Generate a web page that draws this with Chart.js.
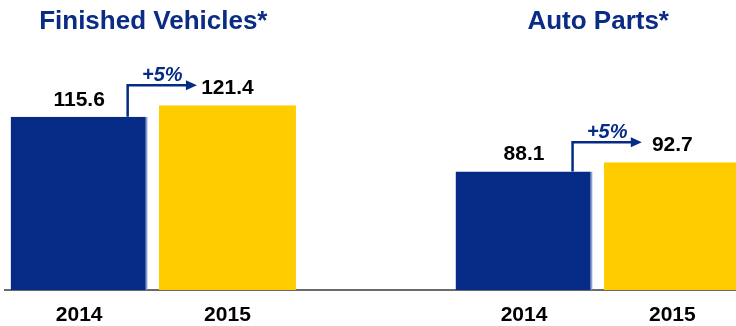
<!DOCTYPE html>
<html>
<head>
<meta charset="utf-8">
<script src="https://cdn.jsdelivr.net/npm/chart.js@4.4.0/dist/chart.umd.min.js"></script>
<style>
  html, body { margin: 0; padding: 0; background: #fff; overflow: hidden; }
  #wrap { position: relative; width: 752px; height: 326px; }
</style>
</head>
<body>
<div id="wrap"><canvas id="salesChart" width="752" height="326"></canvas></div>
<script>
// 数据：整车与零部件，2014 / 2015
const groups = ['Finished Vehicles*', 'Auto Parts*'];
const years = ['2014', '2015'];
const finishedVehicles = [115.6, 121.4];
const autoParts = [88.1, 92.7];
const growth = ['+5%', '+5%'];

// 颜色
const navy = '#062B86';
const gold = '#FFCC00';
const titleColor = '#0B2C84';
const font = '"Liberation Sans", Arial, Helvetica, sans-serif';

// 中间留一个空类目把两组隔开
const labels = [...years, '', ...years];
const values = [...finishedVehicles, null, ...autoParts];
const colors = [navy, gold, 'rgba(0,0,0,0)', navy, gold];

// 标题、数值标签和增长箭头
const annotate = {
  id: 'annotate',
  afterDatasetsDraw(chart) {
    const ctx = chart.ctx;
    const bars = chart.getDatasetMeta(0).data;
    ctx.save();
    ctx.textAlign = 'center';
    ctx.textBaseline = 'alphabetic';

    ctx.font = 'bold 21px ' + font;
    ctx.fillStyle = '#000';
    values.forEach((v, i) => {
      if (v == null) return;
      ctx.fillText(v.toFixed(1), bars[i].x, bars[i].y - 11);
    });

    [[0, 1], [3, 4]].forEach(([a, b], g) => {
      const p = bars[a], q = bars[b];
      ctx.fillStyle = titleColor;
      ctx.font = 'bold 26px ' + font;
      ctx.fillText(groups[g], (p.x + q.x) / 2, 29);

      const x0 = p.x + p.width / 2 - 20;
      const y0 = q.y - 20;
      const x1 = q.x - q.width / 2 + 38;
      ctx.strokeStyle = navy;
      ctx.fillStyle = navy;
      ctx.lineWidth = 2.5;
      ctx.beginPath();
      ctx.moveTo(x0, p.y);
      ctx.lineTo(x0, y0);
      ctx.lineTo(x1 - 8, y0);
      ctx.stroke();
      ctx.beginPath();
      ctx.moveTo(x1, y0);
      ctx.lineTo(x1 - 11, y0 - 5);
      ctx.lineTo(x1 - 11, y0 + 5);
      ctx.closePath();
      ctx.fill();

      ctx.font = 'italic bold 20px ' + font;
      ctx.fillText(growth[g], (x0 + x1) / 2, y0 - 4);
    });
    ctx.restore();
  }
};

new Chart(document.getElementById('salesChart'), {
  type: 'bar',
  data: {
    labels: labels,
    datasets: [{
      data: values,
      backgroundColor: colors,
      borderColor: ['#8C9DD2', gold, 'rgba(0,0,0,0)', '#8C9DD2', gold],
      borderWidth: { right: 2 },
      borderSkipped: false,
      barPercentage: 0.924,
      categoryPercentage: 1
    }]
  },
  options: {
    responsive: false,
    devicePixelRatio: 1,
    animation: false,
    layout: { padding: { top: 88, left: 5, right: 5.5, bottom: 0 } },
    plugins: {
      legend: { display: false },
      tooltip: { enabled: false }
    },
    scales: {
      x: {
        grid: { display: false, drawTicks: false },
        border: { display: true, color: '#6B6B6B', width: 2 },
        ticks: {
          color: '#000',
          padding: 15,
          font: { family: font, size: 21, weight: 'bold', lineHeight: 1 }
        },
        // 底部年份栏固定高度
        afterFit(scale) { scale.height = 36; }
      },
      y: {
        display: false,
        min: 28.6,
        max: 130
      }
    }
  },
  plugins: [annotate]
});
</script>
</body>
</html>
